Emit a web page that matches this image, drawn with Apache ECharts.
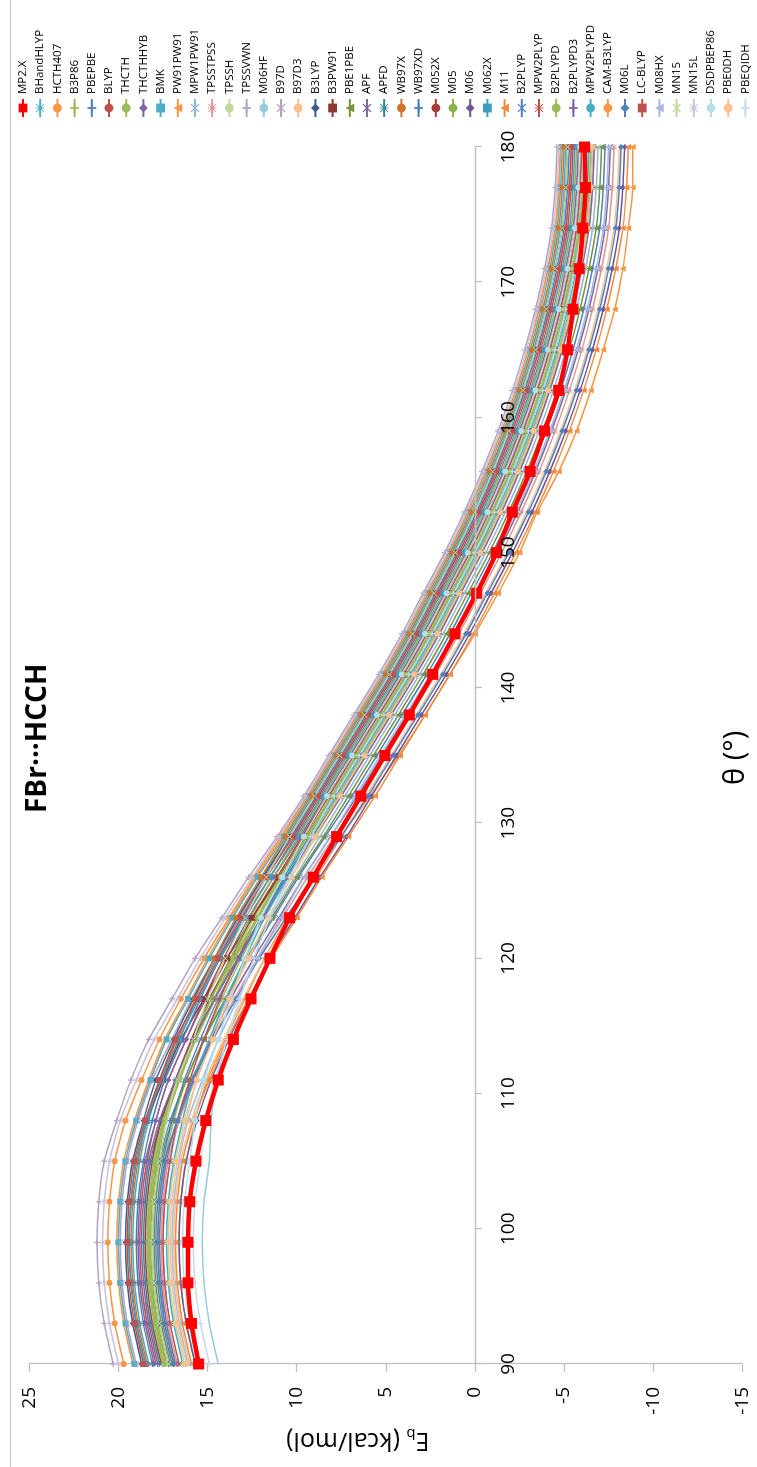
<!DOCTYPE html>
<html>
<head>
<meta charset="utf-8">
<title>FBr···HCCH</title>
<style>
  html, body { margin: 0; padding: 0; background: #fff; overflow: hidden; }
  #page { position: relative; width: 757px; height: 1467px; overflow: hidden; }
  /* the chart is drawn landscape and turned a quarter turn to the left */
  #chart {
    position: absolute; left: 0; top: 0;
    width: 1467px; height: 757px;
    transform-origin: 0 0;
    transform: translate(0, 1467px) rotate(-90deg);
  }
</style>
</head>
<body>
<div id="page"><div id="chart"></div></div>
<script src="https://cdn.jsdelivr.net/npm/echarts@6/dist/echarts.min.js"></script>
<script>
// angle θ (degrees)
var theta = [90, 93, 96, 99, 102, 105, 108, 111, 114, 117, 120, 123, 126, 129, 132, 135,
             138, 141, 144, 147, 150, 153, 156, 159, 162, 165, 168, 171, 174, 177, 180];
var xTicks = [90, 100, 110, 120, 130, 140, 150, 160, 170, 180];
var yTicks = [-15, -10, -5, 0, 5, 10, 15, 20, 25];

// E_b (kcal/mol) for each method
var eMP2X      = [15.5, 15.9, 16.1, 16.1, 16.0, 15.65, 15.1, 14.4, 13.55, 12.56, 11.5, 10.4, 9.07, 7.76, 6.4, 5.05, 3.68, 2.37, 1.12, -0.1, -1.2, -2.1, -3.1, -3.9, -4.7, -5.2, -5.5, -5.85, -6.05, -6.2, -6.15];
var eBHandHLYP = [18.3, 18.8, 19.1, 19.2, 19.1, 18.8, 18.3, 17.6, 16.6, 15.6, 14.5, 13.2, 11.9, 10.5, 9.1, 7.7, 6.3, 4.9, 3.6, 2.4, 1.2, 0.1, -0.9, -1.8, -2.6, -3.3, -3.9, -4.4, -4.8, -5.0, -5.1];
var eHCTH407   = [19.7, 20.2, 20.5, 20.6, 20.5, 20.2, 19.6, 18.7, 17.7, 16.5, 15.2, 13.8, 12.4, 10.9, 9.4, 8.0, 6.6, 5.2, 3.9, 2.7, 1.5, 0.4, -0.6, -1.5, -2.3, -3.0, -3.6, -4.1, -4.5, -4.7, -4.8];
var eB3P86     = [17.5, 18.0, 18.3, 18.4, 18.3, 18.0, 17.5, 16.7, 15.8, 14.8, 13.6, 12.4, 11.0, 9.6, 8.2, 6.8, 5.4, 4.0, 2.7, 1.5, 0.3, -0.8, -1.8, -2.7, -3.5, -4.2, -4.8, -5.3, -5.7, -5.9, -6.0];
var ePBEPBE    = [17.2, 17.7, 18.0, 18.1, 18.0, 17.7, 17.1, 16.2, 15.2, 14.0, 12.7, 11.3, 9.9, 8.4, 6.9, 5.5, 4.1, 2.7, 1.4, 0.2, -1.0, -2.1, -3.1, -4.0, -4.8, -5.5, -6.1, -6.6, -7.0, -7.2, -7.3];
var eBLYP      = [17.9, 18.4, 18.7, 18.8, 18.7, 18.4, 17.9, 17.2, 16.2, 15.2, 14.1, 12.9, 11.5, 10.1, 8.7, 7.3, 5.9, 4.5, 3.2, 2.0, 0.8, -0.3, -1.3, -2.2, -3.0, -3.7, -4.3, -4.8, -5.2, -5.4, -5.5];
var eTHCTH     = [16.9, 17.4, 17.7, 17.8, 17.7, 17.4, 16.9, 16.2, 15.2, 14.2, 13.1, 11.9, 10.5, 9.1, 7.7, 6.3, 4.9, 3.5, 2.2, 1.0, -0.2, -1.3, -2.3, -3.2, -4.0, -4.7, -5.3, -5.8, -6.2, -6.4, -6.5];
var eTHCTHHYB  = [18.0, 18.5, 18.8, 18.9, 18.8, 18.5, 17.9, 17.2, 16.2, 15.1, 13.9, 12.7, 11.3, 9.8, 8.4, 7.0, 5.6, 4.2, 2.9, 1.7, 0.5, -0.6, -1.6, -2.5, -3.3, -4.0, -4.6, -5.1, -5.5, -5.7, -5.8];
var eBMK       = [19.1, 19.6, 19.9, 20.0, 19.9, 19.6, 19.0, 18.2, 17.3, 16.1, 14.9, 13.6, 12.2, 10.7, 9.3, 7.9, 6.5, 5.1, 3.8, 2.6, 1.4, 0.3, -0.7, -1.6, -2.4, -3.1, -3.7, -4.2, -4.6, -4.8, -4.9];
var ePW91PW91  = [15.7, 16.2, 16.5, 16.6, 16.5, 16.2, 15.7, 15.0, 14.0, 12.9, 11.8, 10.5, 8.9, 7.5, 5.9, 4.3, 2.8, 1.4, 0.0, -1.3, -2.5, -3.5, -4.7, -5.7, -6.5, -7.2, -7.85, -8.3, -8.6, -8.85, -8.85];
var eMPW1PW91  = [16.6, 17.1, 17.4, 17.5, 17.4, 17.1, 16.6, 15.8, 14.9, 13.9, 12.7, 11.5, 10.1, 8.7, 7.3, 5.9, 4.5, 3.1, 1.8, 0.6, -0.6, -1.7, -2.7, -3.6, -4.4, -5.1, -5.7, -6.2, -6.6, -6.8, -6.9];
var eTPSSTPSS  = [16.7, 17.2, 17.5, 17.6, 17.5, 17.2, 16.6, 15.7, 14.7, 13.5, 12.2, 10.8, 9.4, 7.9, 6.4, 5.0, 3.6, 2.2, 0.9, -0.3, -1.5, -2.6, -3.6, -4.5, -5.3, -6.0, -6.6, -7.1, -7.5, -7.7, -7.8];
var eTPSSH     = [16.3, 16.8, 17.1, 17.2, 17.1, 16.8, 16.3, 15.6, 14.8, 13.8, 12.7, 11.6, 10.3, 8.9, 7.5, 6.1, 4.7, 3.3, 2.0, 0.8, -0.4, -1.5, -2.5, -3.4, -4.2, -4.9, -5.5, -6.0, -6.4, -6.6, -6.7];
var eTPSSVWN   = [20.3, 20.8, 21.1, 21.2, 21.1, 20.8, 20.1, 19.3, 18.3, 17.0, 15.7, 14.2, 12.7, 11.1, 9.6, 8.2, 6.8, 5.4, 4.1, 2.9, 1.7, 0.6, -0.4, -1.3, -2.1, -2.8, -3.4, -3.9, -4.3, -4.5, -4.6];
var eM06HF     = [14.4, 14.9, 15.2, 15.3, 15.2, 14.9, 14.8, 14.5, 13.9, 13.2, 12.4, 11.5, 10.5, 9.4, 8.1, 6.7, 5.3, 3.9, 2.6, 1.4, 0.2, -0.9, -1.9, -2.8, -3.6, -4.3, -4.9, -5.4, -5.8, -6.0, -6.1];
var eB97D      = [19.0, 19.5, 19.8, 19.9, 19.8, 19.5, 18.9, 18.1, 17.0, 15.9, 14.6, 13.2, 11.8, 10.3, 8.8, 7.4, 6.0, 4.6, 3.3, 2.1, 0.9, -0.2, -1.2, -2.1, -2.9, -3.6, -4.2, -4.7, -5.1, -5.3, -5.4];
var eB97D3     = [16.0, 16.5, 16.8, 16.9, 16.8, 16.5, 15.9, 15.1, 14.1, 13.0, 11.8, 10.4, 9.0, 7.5, 6.1, 4.7, 3.3, 1.9, 0.6, -0.6, -1.8, -2.9, -3.9, -4.8, -5.6, -6.3, -6.9, -7.4, -7.8, -8.0, -8.1];
var eB3LYP     = [18.7, 19.2, 19.5, 19.6, 19.5, 19.2, 18.6, 17.9, 16.9, 15.8, 14.6, 13.3, 11.9, 10.4, 9.0, 7.6, 6.2, 4.8, 3.5, 2.3, 1.1, 0.0, -1.0, -1.9, -2.7, -3.4, -4.0, -4.5, -4.9, -5.1, -5.2];
var eB3PW91    = [18.5, 19.0, 19.3, 19.4, 19.3, 19.0, 18.4, 17.5, 16.5, 15.2, 13.9, 12.5, 11.0, 9.5, 8.0, 6.6, 5.2, 3.8, 2.5, 1.3, 0.1, -1.0, -2.0, -2.9, -3.7, -4.4, -5.0, -5.5, -5.9, -6.1, -6.2];
var ePBE1PBE   = [17.1, 17.6, 17.9, 18.0, 17.9, 17.6, 17.0, 16.2, 15.2, 14.0, 12.8, 11.4, 10.0, 8.5, 7.1, 5.7, 4.3, 2.9, 1.6, 0.4, -0.8, -1.9, -2.9, -3.8, -4.6, -5.3, -5.9, -6.4, -6.8, -7.0, -7.1];
var eAPF       = [16.8, 17.3, 17.6, 17.7, 17.6, 17.3, 16.7, 15.9, 14.8, 13.7, 12.4, 11.0, 9.6, 8.1, 6.6, 5.2, 3.8, 2.4, 1.1, -0.1, -1.3, -2.4, -3.4, -4.3, -5.1, -5.8, -6.4, -6.9, -7.3, -7.5, -7.6];
var eAPFD      = [17.7, 18.2, 18.5, 18.6, 18.5, 18.2, 17.6, 16.8, 15.8, 14.6, 13.3, 12.0, 10.6, 9.1, 7.6, 6.2, 4.8, 3.4, 2.1, 0.9, -0.3, -1.4, -2.4, -3.3, -4.1, -4.8, -5.4, -5.9, -6.3, -6.5, -6.6];
var eWB97X     = [18.4, 18.9, 19.2, 19.3, 19.2, 18.9, 18.4, 17.7, 16.7, 15.7, 14.6, 13.4, 12.0, 10.6, 9.2, 7.8, 6.4, 5.0, 3.7, 2.5, 1.3, 0.2, -0.8, -1.7, -2.5, -3.2, -3.8, -4.3, -4.7, -4.9, -5.0];
var eWB97XD    = [18.1, 18.6, 18.9, 19.0, 18.9, 18.6, 18.1, 17.4, 16.4, 15.4, 14.3, 13.0, 11.7, 10.3, 8.9, 7.5, 6.1, 4.7, 3.4, 2.2, 1.0, -0.1, -1.1, -2.0, -2.8, -3.5, -4.1, -4.6, -5.0, -5.2, -5.3];
var eM052X     = [17.6, 18.1, 18.4, 18.5, 18.4, 18.1, 17.6, 16.8, 15.9, 14.9, 13.7, 12.5, 11.1, 9.7, 8.3, 6.9, 5.5, 4.1, 2.8, 1.6, 0.4, -0.7, -1.7, -2.6, -3.4, -4.1, -4.7, -5.2, -5.6, -5.8, -5.9];
var eM05       = [17.3, 17.8, 18.1, 18.2, 18.1, 17.8, 17.3, 16.6, 15.8, 14.8, 13.7, 12.6, 11.3, 9.9, 8.5, 7.1, 5.7, 4.3, 3.0, 1.8, 0.6, -0.5, -1.5, -2.4, -3.2, -3.9, -4.5, -5.0, -5.4, -5.6, -5.7];
var eM06       = [15.7, 16.2, 16.5, 16.6, 16.5, 16.2, 15.6, 14.8, 13.8, 12.7, 11.5, 10.1, 8.7, 7.2, 5.8, 4.4, 3.0, 1.6, 0.3, -0.9, -2.1, -3.2, -4.2, -5.1, -5.9, -6.6, -7.2, -7.7, -8.1, -8.3, -8.4];
var eM062X     = [18.5, 19.0, 19.3, 19.4, 19.3, 19.0, 18.4, 17.6, 16.6, 15.5, 14.3, 12.9, 11.5, 10.0, 8.6, 7.2, 5.8, 4.4, 3.1, 1.9, 0.7, -0.4, -1.4, -2.3, -3.1, -3.8, -4.4, -4.9, -5.3, -5.5, -5.6];
var eM11       = [15.9, 16.4, 16.7, 16.8, 16.7, 16.4, 15.8, 14.9, 13.9, 12.7, 11.4, 10.0, 8.6, 7.1, 5.6, 4.2, 2.8, 1.4, 0.1, -1.1, -2.3, -3.4, -4.4, -5.3, -6.1, -6.8, -7.4, -7.9, -8.3, -8.5, -8.6];
var eB2PLYP    = [17.0, 17.5, 17.8, 17.9, 17.8, 17.5, 17.0, 16.3, 15.4, 14.4, 13.2, 12.0, 10.7, 9.3, 7.9, 6.5, 5.1, 3.7, 2.4, 1.2, 0.0, -1.1, -2.1, -3.0, -3.8, -4.5, -5.1, -5.6, -6.0, -6.2, -6.3];
var eMPW2PLYP  = [16.6, 17.1, 17.4, 17.5, 17.4, 17.1, 16.7, 16.0, 15.2, 14.3, 13.3, 12.2, 10.9, 9.6, 8.2, 6.8, 5.4, 4.0, 2.7, 1.5, 0.3, -0.8, -1.8, -2.7, -3.5, -4.2, -4.8, -5.3, -5.7, -5.9, -6.0];
var eB2PLYPD   = [17.4, 17.9, 18.2, 18.3, 18.2, 17.9, 17.4, 16.6, 15.7, 14.6, 13.5, 12.2, 10.9, 9.4, 8.0, 6.6, 5.2, 3.8, 2.5, 1.3, 0.1, -1.0, -2.0, -2.9, -3.7, -4.4, -5.0, -5.5, -5.9, -6.1, -6.2];
var eB2PLYPD3  = [17.8, 18.3, 18.6, 18.7, 18.6, 18.3, 17.7, 16.8, 15.8, 14.6, 13.3, 11.9, 10.5, 9.0, 7.5, 6.1, 4.7, 3.3, 2.0, 0.8, -0.4, -1.5, -2.5, -3.4, -4.2, -4.9, -5.5, -6.0, -6.4, -6.6, -6.7];
var eMPW2PLYPD = [16.4, 16.9, 17.2, 17.3, 17.2, 16.9, 16.4, 15.8, 14.9, 14.0, 12.9, 11.8, 10.5, 9.2, 7.8, 6.4, 5.0, 3.6, 2.3, 1.1, -0.1, -1.2, -2.2, -3.1, -3.9, -4.6, -5.2, -5.7, -6.1, -6.3, -6.4];
var eCAMB3LYP  = [19.2, 19.7, 20.0, 20.1, 20.0, 19.7, 19.1, 18.3, 17.4, 16.2, 15.0, 13.7, 12.3, 10.8, 9.4, 8.0, 6.6, 5.2, 3.9, 2.7, 1.5, 0.4, -0.6, -1.5, -2.3, -3.0, -3.6, -4.1, -4.5, -4.7, -4.8];
var eM06L      = [16.9, 17.4, 17.7, 17.8, 17.7, 17.4, 16.7, 15.8, 14.7, 13.4, 12.1, 10.6, 9.1, 7.5, 6.0, 4.6, 3.2, 1.8, 0.5, -0.7, -1.9, -3.0, -4.0, -4.9, -5.7, -6.4, -7.0, -7.5, -7.9, -8.1, -8.2];
var eLCBLYP    = [18.6, 19.1, 19.4, 19.5, 19.4, 19.1, 18.5, 17.7, 16.8, 15.6, 14.4, 13.1, 11.7, 10.2, 8.8, 7.4, 6.0, 4.6, 3.3, 2.1, 0.9, -0.2, -1.2, -2.1, -2.9, -3.6, -4.2, -4.7, -5.1, -5.3, -5.4];
var eM08HX     = [16.1, 16.6, 16.9, 17.0, 16.9, 16.6, 16.1, 15.3, 14.4, 13.3, 12.2, 10.9, 9.6, 8.1, 6.7, 5.3, 3.9, 2.5, 1.2, 0.0, -1.2, -2.3, -3.3, -4.2, -5.0, -5.7, -6.3, -6.8, -7.2, -7.4, -7.5];
var eMN15      = [17.2, 17.7, 18.0, 18.1, 18.0, 17.7, 17.3, 16.7, 15.8, 15.0, 14.0, 12.9, 11.7, 10.4, 9.0, 7.6, 6.2, 4.8, 3.5, 2.3, 1.1, 0.0, -1.0, -1.9, -2.7, -3.4, -4.0, -4.5, -4.9, -5.1, -5.2];
var eMN15L     = [20.0, 20.5, 20.8, 20.9, 20.8, 20.5, 19.9, 19.0, 18.0, 16.7, 15.4, 14.0, 12.5, 11.0, 9.5, 8.1, 6.7, 5.3, 4.0, 2.8, 1.6, 0.5, -0.5, -1.4, -2.2, -2.9, -3.5, -4.0, -4.4, -4.6, -4.7];
var eDSDPBEP86 = [15.5, 16.0, 16.3, 16.4, 16.3, 16.0, 15.7, 15.2, 14.4, 13.7, 12.9, 12.0, 10.8, 9.6, 8.3, 6.9, 5.5, 4.1, 2.8, 1.6, 0.4, -0.7, -1.7, -2.6, -3.4, -4.1, -4.7, -5.2, -5.6, -5.8, -5.9];
var ePBE0DH    = [16.2, 16.7, 17.0, 17.1, 17.0, 16.7, 16.2, 15.6, 14.7, 13.8, 12.7, 11.6, 10.3, 9.0, 7.6, 6.2, 4.8, 3.4, 2.1, 0.9, -0.3, -1.4, -2.4, -3.3, -4.1, -4.8, -5.4, -5.9, -6.3, -6.5, -6.6];
var ePBEQIDH   = [14.9, 15.4, 15.7, 15.8, 15.7, 15.4, 15.1, 14.6, 13.9, 13.2, 12.4, 11.5, 10.4, 9.2, 7.9, 6.5, 5.1, 3.7, 2.4, 1.2, 0.0, -1.1, -2.1, -3.0, -3.8, -4.5, -5.1, -5.6, -6.0, -6.2, -6.3];

var methods = ['MP2.X', 'BHandHLYP', 'HCTH407', 'B3P86', 'PBEPBE', 'BLYP', 'THCTH', 'THCTHHYB', 'BMK',
  'PW91PW91', 'MPW1PW91', 'TPSSTPSS', 'TPSSH', 'TPSSVWN', 'M06HF', 'B97D', 'B97D3', 'B3LYP', 'B3PW91',
  'PBE1PBE', 'APF', 'APFD', 'WB97X', 'WB97XD', 'M052X', 'M05', 'M06', 'M062X', 'M11', 'B2PLYP',
  'MPW2PLYP', 'B2PLYPD', 'B2PLYPD3', 'MPW2PLYPD', 'CAM-B3LYP', 'M06L', 'LC-BLYP', 'M08HX', 'MN15',
  'MN15L', 'DSDPBEP86', 'PBE0DH', 'PBEQIDH'];
var values = [eMP2X, eBHandHLYP, eHCTH407, eB3P86, ePBEPBE, eBLYP, eTHCTH, eTHCTHHYB, eBMK,
  ePW91PW91, eMPW1PW91, eTPSSTPSS, eTPSSH, eTPSSVWN, eM06HF, eB97D, eB97D3, eB3LYP, eB3PW91,
  ePBE1PBE, eAPF, eAPFD, eWB97X, eWB97XD, eM052X, eM05, eM06, eM062X, eM11, eB2PLYP,
  eMPW2PLYP, eB2PLYPD, eB2PLYPD3, eMPW2PLYPD, eCAMB3LYP, eM06L, eLCBLYP, eM08HX, eMN15,
  eMN15L, eDSDPBEP86, ePBE0DH, ePBEQIDH];
var colors = ['#FF0000', '#4BACC6', '#F79646', '#9BBB59', '#4F81BD', '#C0504D', '#9BBB59', '#8064A2', '#4BACC6',
  '#F79646', '#95B3D7', '#D99694', '#C3D69B', '#B3A2C7', '#93CDDD', '#B3A2C7', '#FAC090', '#385D8A', '#8C3836',
  '#77933C', '#7F6A9E', '#31859C', '#D0722B', '#4A7EBB', '#A83A37', '#8EB14B', '#6F5499', '#3A9FBF', '#F08C3C', '#4F81BD',
  '#C0504D', '#9BBB59', '#8064A2', '#4BACC6', '#F79646', '#4F81BD', '#C0504D', '#A5B8E0', '#C3D69B',
  '#CCC0DA', '#B7DEE8', '#FAC090', '#C6D9F1'];
var markers = ['rect', 'star', 'circle', 'plus', 'plus', 'none', 'none', 'diamond', 'rect',
  'triangle', 'x', 'star', 'circle', 'plus', 'none', 'x', 'none', 'diamond', 'rect',
  'triangle', 'x', 'star', 'circle', 'plus', 'none', 'none', 'diamond', 'rect', 'triangle', 'x',
  'star', 'circle', 'plus', 'none', 'none', 'diamond', 'rect', 'triangle', 'x',
  'star', 'circle', 'circle', 'plus'];

var shapes = {
  plus: 'path://M4,0H6V4H10V6H6V10H4V6H0V4H4Z',
  x: 'path://M1,0L5,4L9,0L10,1L6,5L10,9L9,10L5,6L1,10L0,9L4,5L0,1Z',
  star: 'path://M4.5,0H5.5V4.5H10V5.5H5.5V10H4.5V5.5H0V4.5H4.5Z M1,0.3L5,4.3L9,0.3L9.7,1L5.7,5L9.7,9L9,9.7L5,5.7L1,9.7L0.3,9L4.3,5L0.3,1Z'
};

var chart = echarts.init(document.getElementById('chart'));
var font = 'Open Sans';

// grid geometry (landscape frame, before the page turns it)
var gridTop = 29.3, gridHeight = 713;
// the θ axis sits on E = 0, so lift it from the grid bottom by that many pixels
var zeroLift = gridHeight * (0 - yTicks[0]) / (yTicks[yTicks.length - 1] - yTicks[0]);

var series = methods.map(function (name, k) {
  var m = markers[k];
  var isRef = k === 0;
  return {
    name: name,
    type: 'line',
    smooth: 0.2,
    z: isRef ? 5 : 2,
    symbol: shapes[m] || m,
    symbolSize: isRef ? 11 : 6,
    showSymbol: m !== 'none',
    lineStyle: { width: isRef ? 4.5 : (name === 'B2PLYPD' ? 3 : 1.5), color: colors[k] },
    itemStyle: { color: colors[k] },
    emphasis: { disabled: true },
    data: theta.map(function (t, i) { return [t, values[k][i]]; })
  };
});

chart.setOption({
  animation: false,
  textStyle: { fontFamily: font },
  title: {
    text: 'FBr···HCCH',
    left: 649, top: 19,
    textStyle: { fontFamily: font, fontSize: 28, fontWeight: 'bold', color: '#000' }
  },
  legend: {
    orient: 'vertical',
    left: 1349, top: 17, padding: 0,
    itemWidth: 18, itemHeight: 11, itemGap: 5.2,
    textStyle: { fontFamily: font, fontSize: 11.5, color: '#000' },
    data: methods
  },
  grid: { left: 103, width: 1217, top: gridTop, height: gridHeight, outerBoundsMode: 'none' },
  xAxis: {
    type: 'value',
    z: 10,
    min: xTicks[0], max: xTicks[xTicks.length - 1], interval: 10,
    offset: -zeroLift,
    axisLine: { onZero: false, lineStyle: { color: '#BFBFBF', width: 1.3 } },
    axisTick: { length: 7, lineStyle: { color: '#BFBFBF', width: 1.3 } },
    axisLabel: { show: true, margin: 24, fontSize: 19, color: '#000', fontFamily: font },
    splitLine: { show: false }
  },
  yAxis: {
    type: 'value',
    min: yTicks[0], max: yTicks[yTicks.length - 1], interval: 5,
    name: '{e|E}{s|b}{e| (kcal/mol)}',
    nameLocation: 'middle',
    nameGap: 58,
    nameTextStyle: {
      padding: [0, 0, 0, 56],
      rich: {
        e: { fontFamily: font, fontSize: 25, color: '#000', verticalAlign: 'middle' },
        s: { fontFamily: font, fontSize: 15, color: '#000', verticalAlign: 'bottom', padding: [14, 0, 0, 0] }
      }
    },
    axisLine: { show: true, onZero: false, lineStyle: { color: '#BFBFBF', width: 1.3 } },
    axisTick: { show: true, length: 8, lineStyle: { color: '#BFBFBF', width: 1.3 } },
    axisLabel: { margin: 23, fontSize: 19, color: '#000', fontFamily: font },
    splitLine: { show: false }
  },
  graphic: [
    { type: 'line', shape: { x1: 0, y1: 10.5, x2: 1467, y2: 10.5 }, style: { stroke: '#BFBFBF', lineWidth: 1 }, silent: true },
    { type: 'text', left: 682, top: 721, style: { text: 'θ (°)', fontFamily: font, fontSize: 29, fill: '#000' }, silent: true }
  ],
  series: series
});
</script>
</body>
</html>
